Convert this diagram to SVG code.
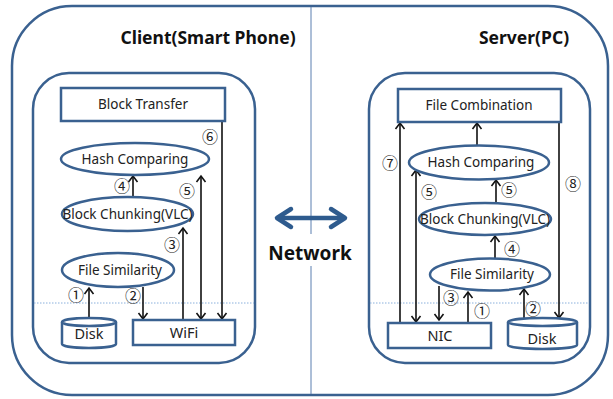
<svg xmlns="http://www.w3.org/2000/svg" width="613" height="399" viewBox="0 0 613 399">
<style>
.frame{fill:none;stroke:#3A6190;stroke-width:2.5}
.node{fill:#fff;stroke:#3A6190;stroke-width:2.5}
.lbl{font-family:"Noto Sans","Open Sans",sans-serif;font-size:13.5px;fill:#222;text-anchor:middle}
.title{font-family:"Noto Sans","Open Sans",sans-serif;font-size:17.5px;font-weight:bold;fill:#111;text-anchor:middle}
.num{font-family:"Noto Sans CJK KR","DejaVu Sans",sans-serif;font-size:16px;fill:#222;text-anchor:middle;dominant-baseline:central}
.ar{fill:none;stroke:#111;stroke-width:1.6}
.dot{fill:none;stroke:#8AB0DC;stroke-width:1;stroke-dasharray:1.5 1.5}
</style>
<defs>
<marker id="ah" markerUnits="userSpaceOnUse" viewBox="-8 -6 10 12" refX="0" refY="0" markerWidth="10" markerHeight="12" orient="auto-start-reverse">
<path d="M-6,-4.5 L0,0 L-6,4.5" fill="none" stroke="#111" stroke-width="1.6"/>
</marker>
</defs>

<g id="frames">
<rect class="frame" x="12" y="6" width="596" height="389" rx="60" ry="60"/>
<line x1="311" y1="7" x2="311" y2="234" stroke="#5B7FB0" stroke-width="1"/>
<line x1="311" y1="266" x2="311" y2="394" stroke="#5B7FB0" stroke-width="1"/>
<rect class="frame" x="33" y="73" width="222" height="290" rx="36" ry="36"/>
<rect class="frame" x="369" y="73" width="221" height="290" rx="36" ry="36"/>
<line class="dot" x1="34" y1="303" x2="254" y2="303"/>
<line class="dot" x1="370" y1="303" x2="589" y2="303"/>
<text class="title" x="208" y="44">Client(Smart Phone)</text>
<text class="title" x="524" y="44">Server(PC)</text>
</g>

<g id="network">
<line x1="278" y1="218" x2="344" y2="218" stroke="#2E5B8E" stroke-width="4.5"/>
<polyline points="291,209 277,218 291,227" fill="none" stroke="#2E5B8E" stroke-width="4.5" stroke-linecap="round" stroke-linejoin="round"/>
<polyline points="331,209 345,218 331,227" fill="none" stroke="#2E5B8E" stroke-width="4.5" stroke-linecap="round" stroke-linejoin="round"/>
<text class="title" x="310" y="260" style="font-size:19px">Network</text>
</g>

<g id="connectors">
<!-- client -->
<line class="ar" x1="89" y1="318" x2="89" y2="288" marker-end="url(#ah)"/>
<line class="ar" x1="143" y1="287" x2="143" y2="319" marker-end="url(#ah)"/>
<line class="ar" x1="183" y1="320" x2="183" y2="228" marker-end="url(#ah)"/>
<line class="ar" x1="133" y1="197" x2="133" y2="176" marker-end="url(#ah)"/>
<line class="ar" x1="201" y1="176" x2="201" y2="319" marker-start="url(#ah)" marker-end="url(#ah)"/>
<line class="ar" x1="222" y1="121" x2="222" y2="319" marker-end="url(#ah)"/>
<!-- server -->
<line class="ar" x1="400" y1="323" x2="400" y2="123" marker-end="url(#ah)"/>
<line class="ar" x1="416" y1="170" x2="416" y2="322" marker-start="url(#ah)" marker-end="url(#ah)"/>
<line class="ar" x1="477" y1="145" x2="477" y2="123" marker-end="url(#ah)"/>
<line class="ar" x1="496" y1="203" x2="496" y2="180" marker-end="url(#ah)"/>
<line class="ar" x1="495" y1="258" x2="495" y2="236" marker-end="url(#ah)"/>
<line class="ar" x1="439" y1="286" x2="439" y2="320" marker-end="url(#ah)"/>
<line class="ar" x1="468" y1="323" x2="468" y2="292" marker-end="url(#ah)"/>
<line class="ar" x1="524" y1="318" x2="524" y2="289" marker-end="url(#ah)"/>
<line class="ar" x1="559" y1="122" x2="559" y2="318" marker-end="url(#ah)"/>
</g>

<g id="step-labels">
<text class="num" x="76" y="294">①</text>
<text class="num" x="133" y="295">②</text>
<text class="num" x="172" y="244">③</text>
<text class="num" x="122" y="185">④</text>
<text class="num" x="187" y="190">⑤</text>
<text class="num" x="210" y="136">⑥</text>
<text class="num" x="390" y="162">⑦</text>
<text class="num" x="429" y="191">⑤</text>
<text class="num" x="509" y="189">⑤</text>
<text class="num" x="573" y="183">⑧</text>
<text class="num" x="512" y="248">④</text>
<text class="num" x="451" y="297">③</text>
<text class="num" x="482" y="310">①</text>
<text class="num" x="533" y="308">②</text>
</g>

<g id="block-transfer">
<rect class="node" x="61" y="88" width="164" height="33"/>
<text class="lbl" x="143" y="109">Block Transfer</text>
</g>
<g id="c-hash">
<ellipse class="node" cx="135" cy="159" rx="74" ry="16"/>
<text class="lbl" x="135" y="164">Hash Comparing</text>
</g>
<g id="c-chunk">
<ellipse class="node" cx="127.5" cy="214" rx="65.5" ry="17"/>
<text class="lbl" x="127.5" y="219">Block Chunking(VLC)</text>
</g>
<g id="c-sim">
<ellipse class="node" cx="118" cy="270" rx="56" ry="17"/>
<text class="lbl" x="120" y="275">File Similarity</text>
</g>
<g id="c-disk">
<path class="node" d="M62,322 L62,344 A27,4 0 0 0 116,344 L116,322"/>
<ellipse class="node" cx="89" cy="322" rx="27" ry="4"/>
<text class="lbl" x="89" y="339" style="font-size:14.5px">Disk</text>
</g>
<g id="c-wifi">
<rect class="node" x="133" y="320" width="102" height="25"/>
<text class="lbl" x="184" y="338" style="font-size:14.5px">WiFi</text>
</g>

<g id="file-combination">
<rect class="node" x="398" y="89" width="163" height="33"/>
<text class="lbl" x="479" y="110">File Combination</text>
</g>
<g id="s-hash">
<ellipse class="node" cx="479" cy="162.5" rx="70" ry="17"/>
<text class="lbl" x="481" y="167">Hash Comparing</text>
</g>
<g id="s-chunk">
<ellipse class="node" cx="485" cy="219" rx="66" ry="16"/>
<text class="lbl" x="485" y="224">Block Chunking(VLC)</text>
</g>
<g id="s-sim">
<ellipse class="node" cx="490" cy="274.5" rx="60" ry="16"/>
<text class="lbl" x="492" y="279">File Similarity</text>
</g>
<g id="s-nic">
<rect class="node" x="388" y="323" width="103" height="25"/>
<text class="lbl" x="440" y="341" style="font-size:14.5px">NIC</text>
</g>
<g id="s-disk">
<path class="node" d="M508,322 L508,345 A34.5,4 0 0 0 577,345 L577,322"/>
<ellipse class="node" cx="542.5" cy="322" rx="34.5" ry="4"/>
<text class="lbl" x="542" y="344" style="font-size:14.5px">Disk</text>
</g>
</svg>
